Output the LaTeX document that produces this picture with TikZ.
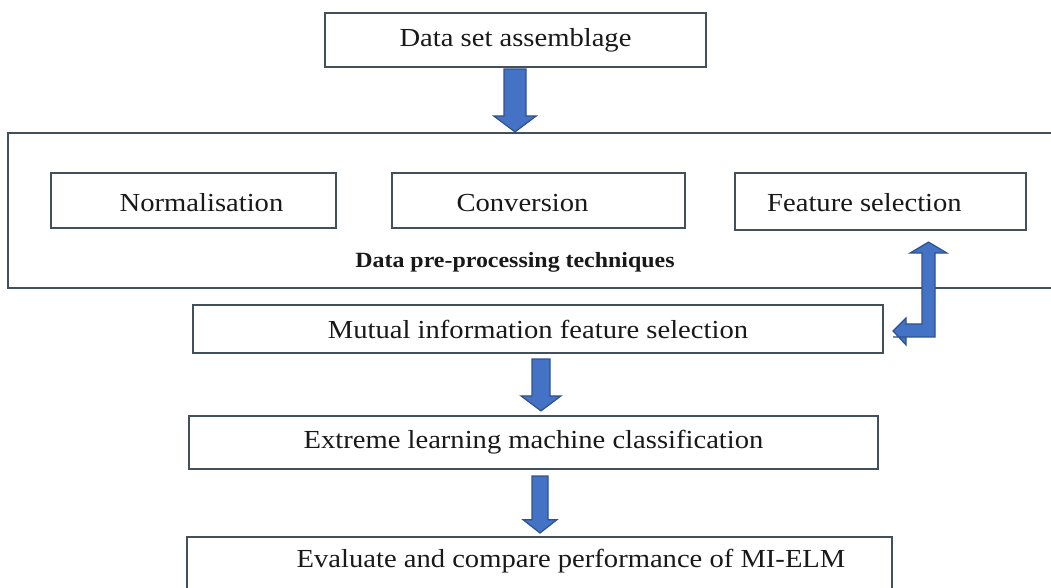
\documentclass[tikz,border=0pt]{standalone}
\usepackage{fontspec}
\setmainfont{Liberation Serif}[FakeStretch=1.1]
\usetikzlibrary{calc}
\definecolor{boxline}{RGB}{66,80,90}
\definecolor{arrowfill}{RGB}{68,114,196}
\definecolor{arrowline}{RGB}{47,82,143}
\tikzset{
  stepbox/.style={draw=boxline, line width=1.6pt, rectangle, inner sep=0pt,
    font=\fontsize{19.5}{23}\selectfont, text=black!90},
  % puts the text baseline #1 below the node centre
  baselinedrop/.style={text height=2*#1, text depth=0pt},
  groupbox/.style={draw=boxline, line width=1.6pt, rectangle, inner sep=0pt},
  grouplabel/.style={font=\fontsize{16.3}{19}\selectfont\bfseries, text=black!90, inner sep=0pt},
  blockarrow/.style={fill=arrowfill, draw=arrowline, line width=0.9pt, line join=miter},
}
% straight block arrow pointing down: #1 start, #2 tip,
% #3 half shaft width, #4 half head width, #5 head length (all in pt)
\newcommand\downblock[5]{%
  \path[blockarrow] let \p1=#1, \p2=#2 in
    (\x2-#3pt,\y1) -- (\x2+#3pt,\y1) -- (\x2+#3pt,\y2+#5pt) -- (\x2+#4pt,\y2+#5pt)
    -- (\x2,\y2) -- (\x2-#4pt,\y2+#5pt) -- (\x2-#3pt,\y2+#5pt) -- cycle;}
\begin{document}
\begin{tikzpicture}[x=0.75pt,y=-0.75pt]
\useasboundingbox[fill=white] (0,0) rectangle (1051,588);

% first step
\node[stepbox, minimum width=381*0.75pt, minimum height=54*0.75pt] (dsa) at (515.5,40) {Data set assemblage};

% pre-processing group (its right side runs past the edge)
\node[groupbox, minimum width=1060*0.75pt, minimum height=155*0.75pt] (pre) at (538,210.5) {};
\node[stepbox, baselinedrop=8.4pt, minimum width=285*0.75pt, minimum height=55*0.75pt] (norm) at (193.5,200.5) {\hspace*{12pt}Normalisation};
\node[stepbox, baselinedrop=8.4pt, minimum width=293*0.75pt, minimum height=55*0.75pt] (conv) at (538.5,200.5) {Conversion\hspace*{24pt}};
\node[stepbox, baselinedrop=7.4pt, minimum width=291*0.75pt, minimum height=57*0.75pt] (fs) at (880.5,201.5) {Feature selection\hspace*{24pt}};
\node[grouplabel] (prelabel) at (515,262) {Data pre-processing techniques};

% later steps
\node[stepbox, minimum width=690*0.75pt, minimum height=48*0.75pt] (mi) at (538,329) {Mutual information feature selection};
\node[stepbox, minimum width=689*0.75pt, minimum height=53*0.75pt] (elm) at (533.5,442.5) {Extreme learning machine classification};
\node[stepbox, minimum width=705*0.75pt, minimum height=66*0.75pt, anchor=north] (eval) at (539.5,536) {};
\node[font=\fontsize{19.5}{23}\selectfont, text=black!90, inner sep=0pt] (evaltext) at (571,561) {Evaluate and compare performance of MI-ELM};

% connectors
\downblock{($(dsa.south)+(0,1)$)}{($(pre.north -| dsa.south)+(-0.5,0)$)}{8.25}{16}{12}
\downblock{($(mi.south)+(3,5)$)}{($(elm.north)+(7.5,-4)$)}{6.75}{15}{11.25}
\downblock{($(elm.south)+(6.5,6)$)}{($(eval.north -| elm.south)+(6.5,-3)$)}{6}{12.75}{10}

% two-way bent arrow between feature selection and mutual information
\coordinate (bu) at ($(fs.south)+(48,11)$);
\coordinate (bl) at ($(mi.east)+(9,2)$);
\coordinate (bs) at ($(bu)+(-6.5,11)$);
\path[blockarrow] (bu) -- ++(18.5,11) -- ++(-12,0) |- ($(bl)+(0,6)$)
  -- ($(bl)+(13,6)$) -- ++(0,8) -- (bl) -- ++(13,-13) -- ++(0,6) -| (bs)
  -- ++(-12,0) -- cycle;
\end{tikzpicture}
\end{document}
